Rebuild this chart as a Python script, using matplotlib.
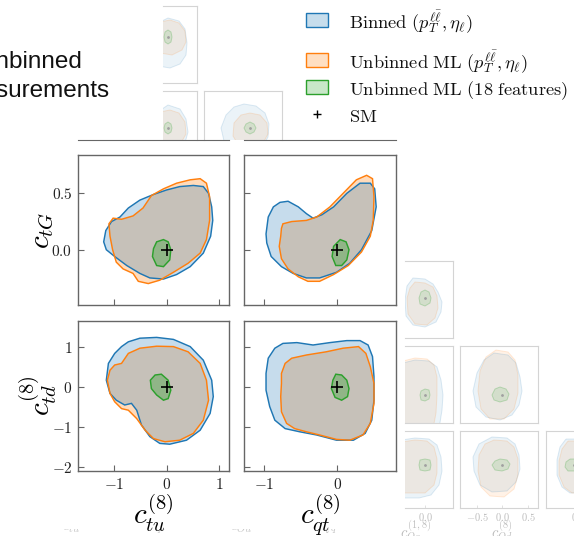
import matplotlib.pyplot as plt
import matplotlib.patches as patches
import numpy as np

plt.rcParams['mathtext.fontset'] = 'cm'
plt.rcParams['font.family'] = ['DejaVu Serif']

W, H = 574, 536
BLUE, ORANGE, GREEN = '#1f77b4', '#ff7f0e', '#2ca02c'
EDGE = '#666666'
FAINT = '#d4d4d4'

# ---- 95% CL regions, front panels (x, y) ----
tu_tG_binned = np.array([(-1.20, 0.07), (-1.16, 0.17), (-1.05, 0.25), (-0.89, 0.29), (-0.73, 0.37),
                         (-0.51, 0.44), (-0.25, 0.49), (0.00, 0.53), (0.25, 0.56), (0.51, 0.57),
                         (0.70, 0.56), (0.80, 0.50), (0.86, 0.38), (0.88, 0.26), (0.84, 0.12),
                         (0.70, -0.03), (0.45, -0.15), (0.19, -0.22), (-0.06, -0.26), (-0.32, -0.25),
                         (-0.51, -0.21), (-0.76, -0.14), (-0.99, -0.06), (-1.15, 0.00)])
tu_tG_unbinned = np.array([(-1.10, 0.23), (-1.02, 0.28), (-0.86, 0.27), (-0.64, 0.30), (-0.45, 0.37),
                           (-0.29, 0.48), (-0.06, 0.54), (0.19, 0.59), (0.45, 0.62), (0.64, 0.63),
                           (0.76, 0.59), (0.82, 0.47), (0.82, 0.26), (0.76, 0.09), (0.64, -0.03),
                           (0.41, -0.12), (0.13, -0.20), (-0.13, -0.27), (-0.35, -0.30), (-0.54, -0.28),
                           (-0.64, -0.21), (-0.83, -0.17), (-0.96, -0.11), (-1.03, 0.00), (-1.08, 0.12)])
tu_tG_features = np.array([(-0.19, 0.07), (-0.06, 0.09), (0.03, 0.07), (0.08, 0.00), (0.06, -0.09),
                           (-0.06, -0.15), (-0.19, -0.14), (-0.27, -0.06), (-0.25, 0.01)])

qt_tG_binned = np.array([(-0.97, 0.14), (-0.94, 0.29), (-0.87, 0.38), (-0.78, 0.42), (-0.67, 0.43),
                         (-0.53, 0.38), (-0.42, 0.32), (-0.33, 0.28), (-0.21, 0.31), (-0.05, 0.38),
                         (0.13, 0.50), (0.31, 0.59), (0.45, 0.59), (0.51, 0.54), (0.53, 0.38),
                         (0.47, 0.17), (0.33, 0.00), (0.17, -0.12), (-0.01, -0.20), (-0.24, -0.25),
                         (-0.42, -0.25), (-0.60, -0.21), (-0.76, -0.15), (-0.90, -0.06), (-0.96, 0.06)])
qt_tG_unbinned = np.array([(-0.76, 0.19), (-0.74, 0.23), (-0.62, 0.25), (-0.42, 0.26), (-0.28, 0.29),
                           (-0.10, 0.38), (0.08, 0.50), (0.26, 0.62), (0.40, 0.66), (0.48, 0.63),
                           (0.50, 0.47), (0.49, 0.26), (0.45, 0.12), (0.33, -0.02), (0.15, -0.14),
                           (-0.05, -0.22), (-0.24, -0.28), (-0.40, -0.28), (-0.53, -0.24), (-0.67, -0.17),
                           (-0.76, -0.08), (-0.79, 0.03), (-0.77, 0.12)])
qt_tG_features = np.array([(0.04, 0.09), (0.12, 0.07), (0.16, 0.00), (0.13, -0.09), (0.06, -0.14),
                           (-0.02, -0.14), (-0.07, -0.06), (-0.05, 0.03)])

tu_td_binned = np.array([(-1.15, 0.18), (-1.11, 0.60), (-0.99, 0.85), (-0.86, 1.02), (-0.73, 1.14),
                         (-0.51, 1.23), (-0.19, 1.25), (0.13, 1.20), (0.45, 1.02), (0.70, 0.68),
                         (0.86, 0.18), (0.89, -0.23), (0.83, -0.65), (0.64, -1.07), (0.38, -1.32),
                         (0.06, -1.42), (-0.13, -1.40), (-0.32, -1.23), (-0.48, -0.94), (-0.57, -0.57),
                         (-0.67, -0.40), (-0.80, -0.44), (-0.96, -0.32), (-1.08, -0.15)])
tu_td_unbinned = np.array([(-1.13, 0.18), (-1.08, 0.43), (-0.99, 0.56), (-0.86, 0.60), (-0.73, 0.85),
                           (-0.51, 0.98), (-0.19, 1.03), (0.13, 1.02), (0.41, 0.89), (0.64, 0.60),
                           (0.76, 0.18), (0.80, -0.32), (0.70, -0.82), (0.51, -1.15), (0.25, -1.32),
                           (-0.03, -1.36), (-0.25, -1.28), (-0.41, -1.07), (-0.57, -0.78), (-0.73, -0.57),
                           (-0.86, -0.53), (-0.99, -0.36), (-1.08, -0.15)])
tu_td_features = np.array([(-0.22, 0.31), (-0.10, 0.33), (0.03, 0.18), (0.08, -0.07), (0.03, -0.28),
                           (-0.06, -0.32), (-0.19, -0.19), (-0.29, -0.03), (-0.31, 0.18)])

qt_td_binned = np.array([(-0.97, 0.35), (-0.94, 0.73), (-0.85, 0.98), (-0.74, 1.10), (-0.55, 1.12),
                         (-0.33, 1.06), (-0.10, 1.12), (0.13, 1.17), (0.31, 1.17), (0.42, 1.06),
                         (0.48, 0.77), (0.50, 0.27), (0.50, -0.32), (0.47, -0.82), (0.38, -1.15),
                         (0.22, -1.32), (-0.01, -1.32), (-0.28, -1.19), (-0.51, -1.11), (-0.71, -1.03),
                         (-0.85, -0.82), (-0.92, -0.48), (-0.97, -0.07)])
qt_td_unbinned = np.array([(-0.76, 0.10), (-0.76, 0.35), (-0.71, 0.60), (-0.62, 0.73), (-0.42, 0.81),
                           (-0.15, 0.89), (0.08, 0.98), (0.29, 1.02), (0.39, 0.85), (0.45, 0.52),
                           (0.50, 0.10), (0.50, -0.40), (0.45, -0.90), (0.35, -1.19), (0.17, -1.32),
                           (-0.01, -1.30), (-0.24, -1.19), (-0.42, -1.11), (-0.58, -1.03), (-0.69, -0.90),
                           (-0.76, -0.61), (-0.77, -0.23)])
qt_td_features = np.array([(-0.02, 0.33), (0.06, 0.31), (0.13, 0.18), (0.16, -0.03), (0.14, -0.23),
                           (0.06, -0.32), (-0.03, -0.25), (-0.08, -0.03), (-0.06, 0.18)])

sm_point = (0.0, 0.0)

# ---- tick values / labels ----
tu_ticks = [-1, 0, 1]
tu_labels = [r'$-1$', r'$0$', r'$1$']
qt_ticks = [-1, 0]
qt_labels = [r'$-1$', r'$0$']
tG_ticks = [0.0, 0.5]
tG_labels = [r'$0.0$', r'$0.5$']
td_ticks = [-2, -1, 0, 1]
td_labels = [r'$-2$', r'$-1$', r'$0$', r'$1$']

legend_labels = [r'$\mathrm{Binned}\ (p_T^{\ell\bar{\ell}}, \eta_\ell)$',
                 r'$\mathrm{Unbinned\ ML}\ (p_T^{\ell\bar{\ell}}, \eta_\ell)$',
                 r'$\mathrm{Unbinned\ ML\ (18\ features)}$',
                 r'$\mathrm{SM}$']

# ---- background panels of the full corner plot (offsets around SM) ----
f1_binned = np.array([(0, 19), (11, 16), (17, 8), (19, -6), (18, -18), (12, -27), (2, -31), (-10, -29),
                      (-18, -20), (-20, -2), (-14, 12)])
f1_unbinned = np.array([(2, 17), (11, 14), (17, 6), (18, -5), (14, -13), (4, -18), (-8, -16), (-16, -6),
                        (-15, 7), (-8, 15)])
f1_features = np.array([(0, 7), (3, 5), (4, 0), (3, -5), (0, -7), (-3, -5), (-4, 0), (-3, 5)])

f2_binned = np.array([(0, 23), (12, 19), (18, 9), (20, -4), (17, -15), (8, -22), (-4, -24), (-15, -18),
                      (-20, -4), (-16, 12)])
f2_unbinned = np.array([(2, 18), (11, 15), (17, 6), (18, -6), (13, -15), (2, -19), (-10, -16), (-16, -6),
                        (-15, 8), (-8, 16)])
f2_features = np.array([(0, 6), (3, 4), (4, 0), (3, -4), (0, -6), (-3, -4), (-4, 0), (-3, 4)])

f3_binned = np.array([(-6, 24), (6, 22), (15, 15), (19, 4), (18, -9), (12, -20), (-2, -26), (-16, -23),
                      (-26, -13), (-29, 0), (-24, 13), (-16, 21)])
f3_unbinned = np.array([(0, 15), (10, 13), (17, 5), (18, -6), (12, -17), (0, -21), (-11, -18), (-17, -8),
                        (-16, 5), (-9, 13)])
f3_features = np.array([(0, 6), (4, 4), (6, 0), (4, -4), (0, -6), (-4, -4), (-6, 0), (-4, 4)])

r1_binned = np.array([(-12, 20), (0, 19), (8, 14), (13, 6), (17, -4), (16, -14), (11, -24), (0, -29),
                      (-12, -27), (-19, -18), (-20, -2), (-18, 12)])
r1_unbinned = np.array([(-10, 16), (0, 15), (8, 11), (12, 2), (13, -10), (10, -20), (2, -27), (-10, -26),
                        (-17, -16), (-18, 0), (-15, 10)])
r1_features = np.array([(0, 8), (4, 6), (6, 0), (5, -5), (0, -8), (-5, -6), (-6, 0), (-4, 6)])

r2_binned = np.array([(-10, 35), (4, 34), (12, 28), (16, 15), (18, 0), (17, -15), (14, -34), (-30, -34),
                      (-30, 30)])
r2_unbinned = np.array([(-10, 37), (2, 36), (9, 30), (12, 18), (12, 0), (11, -18), (8, -34), (-30, -34),
                        (-30, 32)])
r2_features = np.array([(0, 6), (4, 5), (5, 0), (4, -4), (0, -6), (-4, -5), (-5, 0), (-4, 4)])

r3_binned = np.array([(-8, 42), (6, 40), (14, 32), (18, 18), (20, 4), (17, -10), (10, -20), (-2, -25),
                      (-16, -22), (-26, -12), (-29, 4), (-25, 22), (-18, 35)])
r3_unbinned = np.array([(-6, 45), (6, 43), (13, 35), (16, 20), (16, 2), (12, -14), (2, -24), (-12, -24),
                        (-21, -14), (-24, 4), (-22, 24), (-16, 38)])
r3_features = np.array([(-2, 8), (4, 6), (7, 1), (5, -5), (-2, -7), (-8, -5), (-10, 0), (-7, 6)])

r4_binned = np.array([(-10, 27), (4, 26), (12, 20), (16, 8), (17, -6), (14, -20), (6, -30), (-6, -33),
                      (-30, -33), (-30, 24)])
r4_unbinned = np.array([(-10, 25), (2, 24), (9, 18), (12, 6), (12, -8), (9, -20), (0, -28), (-30, -28),
                        (-30, 22)])
r4_features = np.array([(0, 6), (5, 5), (6, 0), (5, -5), (0, -6), (-5, -5), (-6, 0), (-5, 5)])

r5_binned = np.array([(-10, 28), (5, 27), (13, 21), (17, 10), (18, -4), (14, -17), (5, -26), (-10, -27),
                      (-22, -20), (-28, -6), (-29, 8), (-23, 21)])
r5_unbinned = np.array([(-8, 25), (5, 24), (12, 18), (16, 6), (16, -10), (12, -24), (2, -32), (-12, -31),
                        (-21, -22), (-24, -6), (-23, 10), (-17, 21)])
r5_features = np.array([(-2, 6), (5, 5), (8, 1), (6, -4), (0, -6), (-7, -5), (-10, 0), (-7, 4)])

r6_binned = np.array([(-8, 26), (-14, 18), (-17, 5), (-17, -10), (-12, -22), (-4, -28), (10, -28), (10, 26)])
r6_unbinned = np.array([(-6, 24), (-12, 16), (-15, 4), (-15, -10), (-10, -22), (-2, -28), (10, -28), (10, 24)])
r6_features = np.array([(-4, 6), (-8, 3), (-9, -2), (-6, -6), (2, -6), (2, 6)])

bg_ticks_qd = [-25, 0, 26]
bg_labels_qd = [r'$-0.5$', r'$0.0$', r'$0.5$']
bg_bottom_names = [r'$c_{tu}$', r'$c_{qt}$', r'$c_{Ou}$', r'$c_{Qq}$']


def box(x0, y0, x1, y1):
    return [x0 / W, 1 - y1 / H, (x1 - x0) / W, (y1 - y0) / H]


def draw_regions(ax, binned, unbinned, feat, faint=False):
    k = 0.35 if faint else 1.0
    ea = 0.15 if faint else 1.0
    ga = 0.25 if faint else 1.0
    lw = 0.7 if faint else 1.05
    ax.fill(unbinned[:, 0], unbinned[:, 1], color=ORANGE, alpha=0.28 * k, lw=0, zorder=1)
    ax.fill(binned[:, 0], binned[:, 1], color=BLUE, alpha=0.25 * k, lw=0, zorder=1)
    ax.fill(binned[:, 0], binned[:, 1], fill=False, ec=BLUE, alpha=ea, lw=lw, zorder=2)
    ax.fill(unbinned[:, 0], unbinned[:, 1], fill=False, ec=ORANGE, alpha=ea, lw=lw, zorder=2)
    ax.fill(feat[:, 0], feat[:, 1], color=GREEN, alpha=0.35 * k, lw=0, zorder=3)
    ax.fill(feat[:, 0], feat[:, 1], fill=False, ec=GREEN, alpha=ga, lw=lw, zorder=3)
    if faint:
        ax.plot(*sm_point, marker='.', color='#a0a0a0', ms=2, zorder=4)
    else:
        ax.plot(*sm_point, marker='+', color='k', ms=8, mew=1.2, zorder=4)


def style_main(ax, xlim, ylim, xt, xl, yt, yl):
    ax.set_xlim(xlim)
    ax.set_ylim(ylim)
    ax.set_xticks(xt, labels=xl)
    ax.set_yticks(yt, labels=yl)
    ax.tick_params(direction='in', length=4, width=0.8, color=EDGE, labelsize=11, pad=4,
                   labelcolor='#222222')
    for s in ax.spines.values():
        s.set_color(EDGE)
        s.set_linewidth(1.0)


def faint_panel(rect, xlim, ylim, regions, hide=(), xt=(), xl=()):
    ax = fig.add_axes(rect, zorder=0)
    draw_regions(ax, *regions, faint=True)
    ax.set_xlim(xlim)
    ax.set_ylim(ylim)
    ax.set_xticks(xt, labels=xl)
    ax.set_yticks([])
    ax.tick_params(direction='in', length=2, width=0.5, color=FAINT, labelsize=7.5,
                   labelcolor='#bdbdbd', pad=2)
    for name, s in ax.spines.items():
        s.set_color(FAINT)
        s.set_linewidth(0.8)
        s.set_visible(name not in hide)
    return ax


fig = plt.figure(figsize=(W / 100, H / 100), dpi=100)

# faded panels of the full corner plot behind
faint_panel(box(163, 6, 197, 83), (-5, 29), (-46, 31), (f1_binned, f1_unbinned, f1_features), hide=('left',))
faint_panel(box(163, 91, 197, 140), (-5, 29), (-12, 37), (f2_binned, f2_unbinned, f2_features),
            hide=('left', 'bottom'))
faint_panel(box(204, 91, 282, 140), (-46, 32), (-12, 37), (f3_binned, f3_unbinned, f3_features),
            hide=('bottom',))
faint_panel(box(405, 261, 453, 338), (-20, 28), (-40, 37), (r1_binned, r1_unbinned, r1_features), hide=('left',))
faint_panel(box(405, 346, 453, 423), (-20, 28), (-28, 49), (r2_binned, r2_unbinned, r2_features), hide=('left',))
faint_panel(box(460, 346, 538, 423), (-42, 36), (-28, 49), (r3_binned, r3_unbinned, r3_features))
faint_panel(box(405, 431, 453, 508), (-20, 28), (-43, 34), (r4_binned, r4_unbinned, r4_features),
            hide=('left',), xt=[0], xl=[r'$0.0$'])
faint_panel(box(460, 431, 538, 508), (-42, 36), (-43, 34), (r5_binned, r5_unbinned, r5_features),
            xt=bg_ticks_qd, xl=bg_labels_qd)
faint_panel(box(546, 431, 574, 508), (-28, 0), (-43, 34), (r6_binned, r6_unbinned, r6_features),
            hide=('right',), xt=[0], xl=[r'$0$'])

fig.text(416 / W, 1 - 518 / H, r'$c_{Qq}^{(1,8)}$', ha='center', va='top', fontsize=10.5, color='#bdbdbd')
fig.text(502 / W, 1 - 518 / H, r'$c_{Qd}^{(8)}$', ha='center', va='top', fontsize=10.5, color='#bdbdbd')

for x, name in zip([71, 157, 241, 326], bg_bottom_names):
    fig.text(x / W, 1 - 521 / H, name, ha='center', va='top', fontsize=11, color='#c4c4c4', zorder=0.5)
fig.add_artist(patches.Rectangle((0, 1 - 529 / H), 400 / W, 40 / H, transform=fig.transFigure,
                                 fc='white', ec='none', zorder=0.6))

# bottom edges of the upper row that is cut off
for x0, x1 in [(78, 229), (244, 396)]:
    a = fig.add_axes(box(x0, 125, x1, 140), zorder=2)
    a.set_xticks([])
    a.set_yticks([])
    a.patch.set_alpha(0)
    for name, s in a.spines.items():
        s.set_visible(name == 'bottom')
        s.set_color(EDGE)

ax1 = fig.add_axes(box(78, 155, 229, 305), zorder=2)
ax2 = fig.add_axes(box(244, 155, 396, 305), zorder=2)
ax3 = fig.add_axes(box(78, 321, 229, 471), zorder=2)
ax4 = fig.add_axes(box(244, 321, 396, 471), zorder=2)

draw_regions(ax1, tu_tG_binned, tu_tG_unbinned, tu_tG_features)
draw_regions(ax2, qt_tG_binned, qt_tG_unbinned, qt_tG_features)
draw_regions(ax3, tu_td_binned, tu_td_unbinned, tu_td_features)
draw_regions(ax4, qt_td_binned, qt_td_unbinned, qt_td_features)

style_main(ax1, (-1.69, 1.19), (-0.49, 0.84), tu_ticks, [], tG_ticks, tG_labels)
style_main(ax2, (-1.27, 0.80), (-0.49, 0.84), qt_ticks, [], tG_ticks, [])
style_main(ax3, (-1.69, 1.19), (-2.09, 1.66), tu_ticks, tu_labels, td_ticks, td_labels)
style_main(ax4, (-1.27, 0.80), (-2.09, 1.66), qt_ticks, qt_labels, td_ticks, [])

ax1.set_ylabel(r'$c_{tG}$', fontsize=21, labelpad=-3)
ax3.set_ylabel(r'$c_{td}^{(8)}$', fontsize=21, labelpad=-5)
ax3.set_xlabel(r'$c_{tu}^{(8)}$', fontsize=21, labelpad=1)
ax4.set_xlabel(r'$c_{qt}^{(8)}$', fontsize=21, labelpad=1)

# legend: handle boxes and labels on the same baselines
legend_fills = [(0.12, 0.47, 0.71, 0.25), (1.0, 0.5, 0.05, 0.25), (0.17, 0.63, 0.17, 0.25)]
legend_edges = [BLUE, ORANGE, GREEN]
legend_baselines = [28, 68, 95, 122]
for i, (label, base) in enumerate(zip(legend_labels, legend_baselines)):
    if i < 3:
        fig.add_artist(patches.Rectangle((306 / W, 1 - (base - 1) / H), 22 / W, 14 / H,
                                         transform=fig.transFigure, fc=legend_fills[i],
                                         ec=legend_edges[i], lw=1.0))
    else:
        fig.add_artist(plt.Line2D([317 / W], [1 - (base - 8) / H], transform=fig.transFigure,
                                  marker='+', color='k', ms=6, mew=1.0))
    fig.text(349 / W, 1 - base / H, label, ha='left', va='baseline', fontsize=13.3, color='#111111')

# slide title, partly off the left edge
fig.text(82 / W, 1 - 68 / H, 'Unbinned', ha='right', va='baseline', fontsize=17.5,
         family='Liberation Sans', color='#111111')
fig.text(110 / W, 1 - 97 / H, 'measurements', ha='right', va='baseline', fontsize=17.5,
         family='Liberation Sans', color='#111111')

fig.savefig('out.png', dpi=100)
